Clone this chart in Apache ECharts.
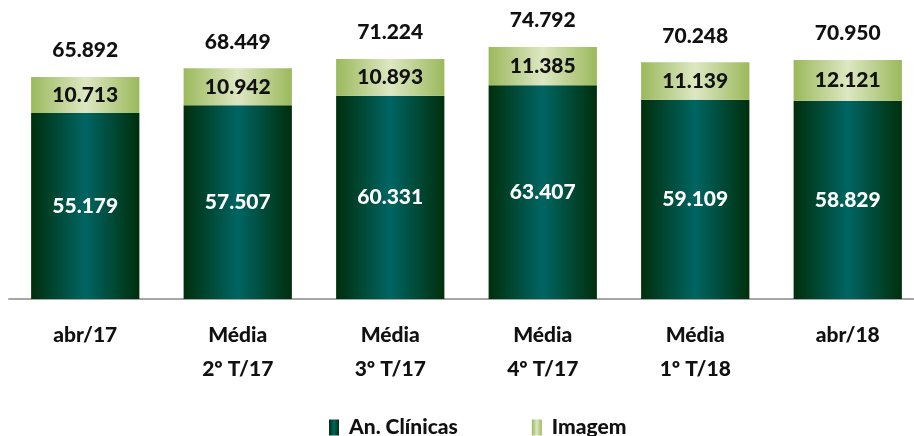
<!DOCTYPE html>
<html><head><meta charset="utf-8">
<script src="https://cdn.jsdelivr.net/npm/echarts@6/dist/echarts.min.js"></script>
<style>html,body{margin:0;padding:0;background:#fff;overflow:hidden}#c{width:930px;height:436px}</style>
</head><body><div id="c"></div>
<script>
const categories = ['abr/17', 'Média\n2º T/17', 'Média\n3º T/17', 'Média\n4º T/17', 'Média\n1º T/18', 'abr/18'];
const anClinicas = [55.179, 57.507, 60.331, 63.407, 59.109, 58.829];
const imagem = [10.713, 10.942, 10.893, 11.385, 11.139, 12.121];
const totals = [65.892, 68.449, 71.224, 74.792, 70.248, 70.950];

const fmt = v => v.toFixed(3);
const FONT = 'Lato';
const FW = 900;
const FS = 21;
const darkGrad = new echarts.graphic.LinearGradient(0, 0, 1, 0, [
  {offset: 0, color: '#002f0c'},
  {offset: 0.5, color: '#006563'},
  {offset: 1, color: '#002f0c'}
]);
const lightGrad = new echarts.graphic.LinearGradient(0, 0, 1, 0, [
  {offset: 0, color: '#9bb95c'},
  {offset: 0.5, color: '#dde7c2'},
  {offset: 1, color: '#9bb95c'}
]);
const chart = echarts.init(document.getElementById('c'));
chart.setOption({
  animation: false,
  grid: {left: 9, width: 915, top: 29.4, bottom: 137},
  legend: {
    top: 412, left: 324,
    itemWidth: 10, itemHeight: 16, itemGap: 74,
    data: ['An. Clínicas', 'Imagem'],
    textStyle: {fontFamily: FONT, fontWeight: FW, fontSize: FS, color: '#111', padding: [0, 0, 0, 5]},
    icon: 'rect'
  },
  xAxis: {
    type: 'category', data: categories,
    axisLine: {lineStyle: {color: '#a6a6a6', width: 2}},
    axisTick: {show: false},
    axisLabel: {fontFamily: FONT, fontWeight: FW, fontSize: FS, color: '#111', lineHeight: 34, margin: 19}
  },
  yAxis: {type: 'value', min: 0, max: 80, show: false, splitLine: {show: false}},
  series: [
    {
      name: 'An. Clínicas', type: 'bar', stack: 's', data: anClinicas,
      barCategoryGap: '29%',
      itemStyle: {color: darkGrad},
      label: {show: true, position: 'inside', formatter: p => fmt(p.value), color: '#fff',
        fontFamily: FONT, fontWeight: FW, fontSize: FS}
    },
    {
      name: 'Imagem', type: 'bar', stack: 's', data: imagem,
      itemStyle: {color: lightGrad},
      label: {show: true, position: 'inside', formatter: p => fmt(p.value), color: '#111',
        fontFamily: FONT, fontWeight: FW, fontSize: FS}
    },
    {
      name: 'Total', type: 'bar', stack: 's', data: totals.map(() => 0),
      itemStyle: {color: 'transparent'},
      label: {show: true, position: 'top', distance: 16, formatter: p => fmt(totals[p.dataIndex]), color: '#111',
        fontFamily: FONT, fontWeight: FW, fontSize: FS}
    }
  ]
});
</script></body></html>
